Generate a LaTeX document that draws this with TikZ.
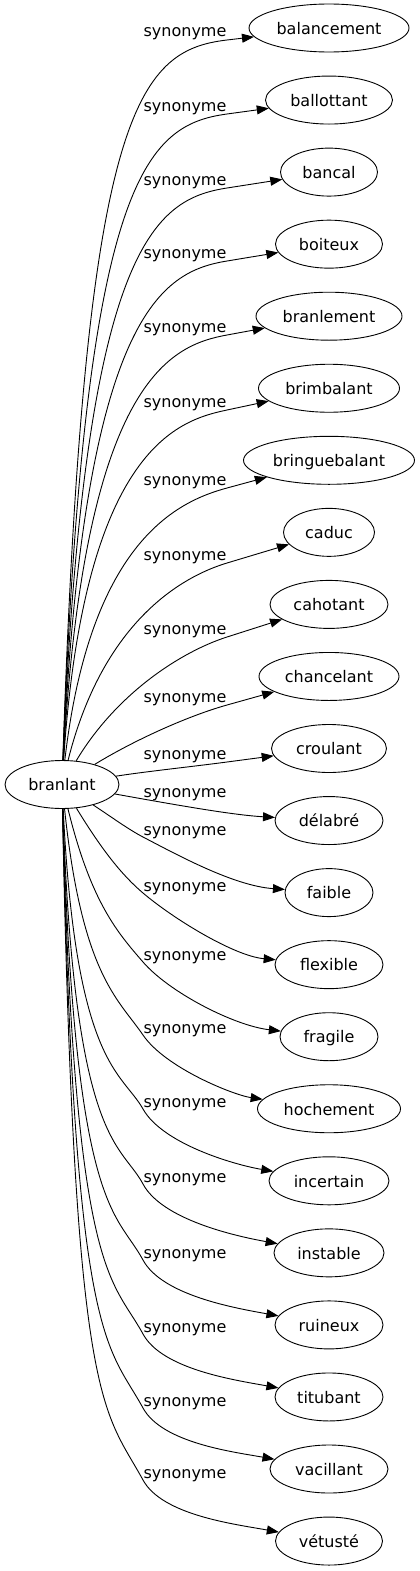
\documentclass[tikz,border=0pt]{standalone}
\usepackage{fontspec}
\setmainfont{DejaVu Sans}
\usetikzlibrary{arrows.meta,shapes.geometric}

\begin{document}
\begin{tikzpicture}[x=1pt,y=-1pt,>={Triangle[length=12pt,width=9pt]},line width=0.9pt,
        node distance=72.05pt,
        main node/.style={ellipse,draw,minimum height=48pt,inner sep=0pt,
            text height=12.5pt,text depth=0pt,font=\fontsize{16}{19}\selectfont},
        rel/.style={anchor=base,inner sep=0pt,font=\fontsize{16}{19}\selectfont}]
        \useasboundingbox (0,0) rectangle (420,1571);
        \node[main node, minimum width=114pt] (0) at (62,784.5) {branlant};
        \node[main node, minimum width=160pt] (1) at (329,28) {balancement};
        \node[main node, minimum width=127pt] (2) [below of=1] {ballottant};
        \node[main node, minimum width=97pt] (3) [below of=2] {bancal};
        \node[main node, minimum width=107pt] (4) [below of=3] {boiteux};
        \node[main node, minimum width=146pt] (5) [below of=4] {branlement};
        \node[main node, minimum width=141pt] (6) [below of=5] {brimbalant};
        \node[main node, minimum width=171pt] (7) [below of=6] {bringuebalant};
        \node[main node, minimum width=91pt] (8) [below of=7] {caduc};
        \node[main node, minimum width=118pt] (9) [below of=8] {cahotant};
        \node[main node, minimum width=140pt] (10) [below of=9] {chancelant};
        \node[main node, minimum width=115pt] (11) [below of=10] {croulant};
        \node[main node, minimum width=108pt] (12) [below of=11] {délabré};
        \node[main node, minimum width=88pt] (13) [below of=12] {faible};
        \node[main node, minimum width=108pt] (14) [below of=13] {flexible};
        \node[main node, minimum width=98pt] (15) [below of=14] {fragile};
        \node[main node, minimum width=143pt] (16) [below of=15] {hochement};
        \node[main node, minimum width=120pt] (17) [below of=16] {incertain};
        \node[main node, minimum width=110pt] (18) [below of=17] {instable};
        \node[main node, minimum width=108pt] (19) [below of=18] {ruineux};
        \node[main node, minimum width=108pt] (20) [below of=19] {titubant};
        \node[main node, minimum width=118pt] (21) [below of=20] {vacillant};
        \node[main node, minimum width=107pt] (22) [below of=21] {vétusté};
        % edges from branlant, each one passing beside its label
        \foreach \k/\l in {1/32,2/106,3/180,4/253,5/327,6/402,7/480,8/555,9/629,10/697,11/754,
                12/792,13/830,14/886,15/955,16/1028,17/1102,18/1177,19/1253,20/1327,21/1401,22/1473}{
            \pgfmathsetmacro\ty{28+72.05*(\k-1)}
            \ifnum\k<12
                \pgfmathsetmacro\wy{\l+8}
                \pgfmathsetmacro\s{min(1,(785-\wy)/350)}
                \pgfmathsetmacro\q{(1-\s)^2}
                \pgfmathsetmacro\sx{65+54*\q}
                \pgfmathsetmacro\sy{761+18*\q}
                \pgfmathsetmacro\ax{\sx+(0.12+0.2*(1-\s))*(227-\sx)}
                \pgfmathsetmacro\ay{\sy+(0.9*\s+0.33*(1-\s))*(\wy-\sy)}
                \pgfmathsetmacro\uy{\ty-\wy}
                \pgfmathsetmacro\un{veclen(102,\uy)}
                \pgfmathsetmacro\kk{veclen(227-\sx,\wy-\sy)*(1/3-0.21*\s)}
                \pgfmathsetmacro\bx{227-\kk*102/\un}
                \pgfmathsetmacro\by{\wy-\kk*\uy/\un}
                \draw[->] (0) .. controls (\ax,\ay) and (\bx,\by) .. (227,\wy) -- (\k);
            \else
                \pgfmathsetmacro\wy{\l+7}
                \pgfmathsetmacro\s{min(1,(\wy-785)/350)}
                \pgfmathsetmacro\q{(1-\s)^2}
                \pgfmathsetmacro\sx{65+48*\q}
                \pgfmathsetmacro\sy{809-10*\q*\q}
                \pgfmathsetmacro\ax{\sx+(0.12+0.2*(1-\s))*(143-\sx)}
                \pgfmathsetmacro\ay{\sy+(0.9*\s+0.33*(1-\s))*(\wy-\sy)}
                \pgfmathsetmacro\m{(\ty-\wy)/186+1.5*\s}
                \pgfmathsetmacro\un{veclen(1,\m)}
                \pgfmathsetmacro\kk{veclen(143-\sx,\wy-\sy)*(1/3-0.21*\s)}
                \pgfmathsetmacro\bx{143-\kk/\un}
                \pgfmathsetmacro\by{\wy-\kk*\m/\un}
                \pgfmathsetmacro\cx{143+40/\un}
                \pgfmathsetmacro\cy{\wy+40*\m/\un}
                \pgfmathsetmacro\dy{\ty-5-12*\s}
                \ifnum\k=12
                    \draw[->] (0) -- (143,\wy) .. controls (\cx,\cy) and (234,\dy) .. (\k);
                \else
                    \draw[->] (0) .. controls (\ax,\ay) and (\bx,\by) .. (143,\wy)
                        .. controls (\cx,\cy) and (234,\dy) .. (\k);
                \fi
            \fi
            \node[rel] (s\k) at (185,\l+5) {synonyme};
        }
\end{tikzpicture}
\end{document}
